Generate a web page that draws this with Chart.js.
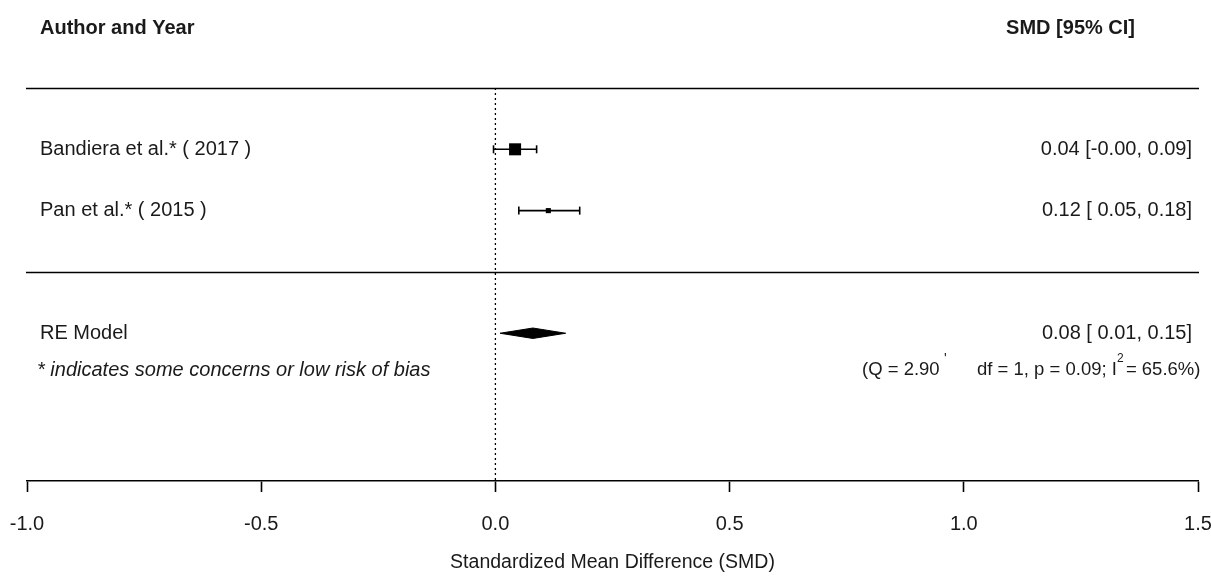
<!DOCTYPE html>
<html>
<head>
<meta charset="utf-8">
<script src="https://cdn.jsdelivr.net/npm/chart.js@4/dist/chart.umd.min.js"></script>
<style>
body{margin:0;background:#fff;}
canvas{display:block;}
</style>
</head>
<body>
<canvas id="forest" width="1211" height="578"></canvas>
<script>
// studies (top to bottom), metafor style rows k..1
var studyLabels=["Bandiera et al.* ( 2017 )","Pan et al.* ( 2015 )"];
var studyRows=[2,1];
var studyEst=[0.042,0.113];
var studyLo=[-0.004,0.05];
var studyHi=[0.088,0.18];
var studyCiText=["0.04 [-0.00, 0.09]","0.12 [ 0.05, 0.18]"];
var studySize=[8.5,3.6]; // marker radius ~ weight

// random effects summary
var reRow=-1;
var reEst=0.08, reLo=0.01, reHi=0.15;
var reCiText="0.08 [ 0.01, 0.15]";

var xTicks=[-1.0,-0.5,0.0,0.5,1.0,1.5];
var headerRow=3.97, topLineRow=3, midLineRow=0, noteRow=-1.6, yMin=-3.41;

var FONT="'Liberation Sans', Arial, sans-serif";

var datasets=[];
// dotted zero line
datasets.push({data:[{x:0,y:topLineRow},{x:0,y:yMin}],showLine:true,borderColor:"#000",borderWidth:1.3,borderDash:[2,3],pointRadius:0});
for(var i=0;i<studyRows.length;i++){
	datasets.push({data:[{x:studyLo[i],y:studyRows[i]},{x:studyHi[i],y:studyRows[i]}],showLine:true,borderColor:"#000",borderWidth:1.6,
		pointStyle:"line",rotation:90,pointRadius:4,pointBorderWidth:1.6,pointBorderColor:"#000"});
	datasets.push({data:[{x:studyEst[i],y:studyRows[i]}],pointStyle:"rect",pointRadius:studySize[i],backgroundColor:"#000",borderColor:"#000",borderWidth:0});
}
// diamond: upper half then lower half filled to it
var dh=0.085;
datasets.push({data:[{x:reLo,y:reRow},{x:reEst,y:reRow+dh},{x:reHi,y:reRow}],showLine:true,borderColor:"#000",borderWidth:1,pointRadius:0,fill:false});
datasets.push({data:[{x:reLo,y:reRow},{x:reEst,y:reRow-dh},{x:reHi,y:reRow}],showLine:true,borderColor:"#000",borderWidth:1,pointRadius:0,fill:"-1",backgroundColor:"#000"});

var textPlugin={
	id:"forestText",
	afterDraw:function(chart){
		var ctx=chart.ctx, ys=chart.scales.y, a=chart.chartArea;
		var leftX=40, rightX=1192;
		ctx.save();
		ctx.strokeStyle="#000";ctx.lineWidth=1.6;
		[topLineRow,midLineRow].forEach(function(r){
			var y=Math.round(ys.getPixelForValue(r))+0.5;
			ctx.beginPath();ctx.moveTo(a.left-1,y);ctx.lineTo(a.right+1,y);ctx.stroke();
		});
		ctx.fillStyle="#1a1a1a";ctx.textBaseline="middle";
		ctx.font="bold 20px "+FONT;
		ctx.textAlign="left";ctx.fillText("Author and Year",leftX,ys.getPixelForValue(headerRow));
		ctx.textAlign="right";ctx.fillText("SMD [95% CI]",1135,ys.getPixelForValue(headerRow));
		ctx.font="20px "+FONT;
		for(var i=0;i<studyRows.length;i++){
			var y=ys.getPixelForValue(studyRows[i]);
			ctx.textAlign="left";ctx.fillText(studyLabels[i],leftX,y);
			ctx.textAlign="right";ctx.fillText(studyCiText[i],rightX,y);
		}
		var yr=ys.getPixelForValue(reRow);
		ctx.textAlign="left";ctx.fillText("RE Model",leftX,yr);
		ctx.textAlign="right";ctx.fillText(reCiText,rightX,yr);
		var yn=ys.getPixelForValue(noteRow);
		ctx.font="italic 20px "+FONT;ctx.textAlign="left";
		ctx.fillText("* indicates some concerns or low risk of bias",37,yn);
		// heterogeneity stats, with the comma rendered as a superscript like the original
		ctx.font="18.5px "+FONT;
		ctx.fillText("(Q = 2.90",862,yn);
		ctx.font="14px "+FONT;ctx.fillText("'",944,yn-11);
		ctx.font="18.5px "+FONT;
		var s1="df = 1, p = 0.09; I";
		ctx.fillText(s1,977,yn);
		var w1=ctx.measureText(s1).width;
		ctx.font="12px "+FONT;ctx.fillText("2",977+w1,yn-11);
		ctx.font="18.5px "+FONT;ctx.fillText("= 65.6%)",977+w1+9,yn);
		ctx.restore();
	}
};

new Chart(document.getElementById("forest").getContext("2d"),{
	type:"scatter",
	data:{datasets:datasets},
	plugins:[textPlugin],
	options:{
		responsive:false,animation:false,
		layout:{padding:{left:27,right:13,top:88,bottom:0}},
		plugins:{legend:{display:false},tooltip:{enabled:false}},
		scales:{
			x:{type:"linear",min:-1,max:1.5,
				afterBuildTicks:function(s){s.ticks=xTicks.map(function(v){return {value:v};});},
				afterFit:function(s){s.height=97;s.paddingLeft=0;s.paddingRight=0;},
				grid:{drawOnChartArea:false,tickLength:11,color:"#000",tickWidth:1.6},
				border:{color:"#000",width:1.6},
				ticks:{color:"#1a1a1a",font:{family:FONT,size:20},padding:20,maxRotation:0,autoSkip:false,
					callback:function(v){return Number(v).toFixed(1);}},
				title:{display:true,text:"Standardized Mean Difference (SMD)",color:"#1a1a1a",font:{family:FONT,size:19.5},padding:{top:0,bottom:4}}
			},
			y:{type:"linear",min:yMin,max:topLineRow,display:false}
		}
	}
});
</script>
</body>
</html>
